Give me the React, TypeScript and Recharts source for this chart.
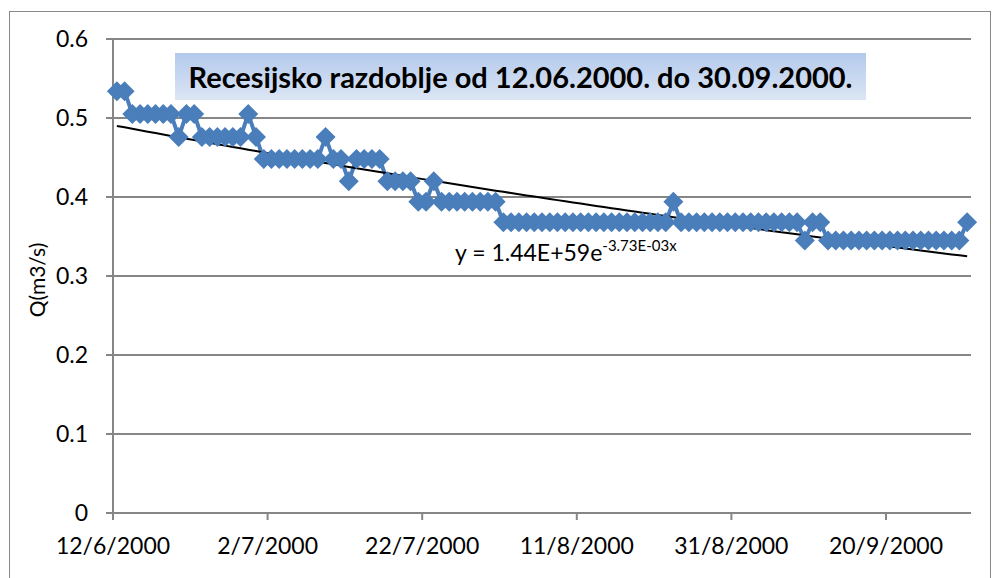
import { LineChart, Line, XAxis, YAxis, CartesianGrid } from "recharts";

// days counted from 12/6/2000, one reading per day
const startDate = Date.UTC(2000, 5, 12);
const dayTicks = [0, 20, 40, 60, 80, 100];
const qTicks = [0, 0.1, 0.2, 0.3, 0.4, 0.5, 0.6];

const discharge = [
  0.534, 0.534,
  0.505, 0.505, 0.505, 0.505, 0.505, 0.505,
  0.476,
  0.505, 0.505,
  0.476, 0.476, 0.476, 0.476, 0.476, 0.476,
  0.505,
  0.476,
  0.448, 0.448, 0.448, 0.448, 0.448, 0.448, 0.448, 0.448,
  0.476,
  0.448, 0.448,
  0.42,
  0.448, 0.448, 0.448, 0.448,
  0.42, 0.42, 0.42, 0.42,
  0.394, 0.394,
  0.42,
  0.394, 0.394, 0.394, 0.394, 0.394, 0.394, 0.394, 0.394,
  0.368, 0.368, 0.368, 0.368, 0.368, 0.368, 0.368, 0.368, 0.368, 0.368, 0.368,
  0.368, 0.368, 0.368, 0.368, 0.368, 0.368, 0.368, 0.368, 0.368, 0.368, 0.368,
  0.394,
  0.368, 0.368, 0.368, 0.368, 0.368, 0.368, 0.368, 0.368,
  0.368, 0.368, 0.368, 0.368, 0.368, 0.368, 0.368, 0.368,
  0.345,
  0.368, 0.368,
  0.345, 0.345, 0.345, 0.345, 0.345, 0.345, 0.345, 0.345, 0.345,
  0.345, 0.345, 0.345, 0.345, 0.345, 0.345, 0.345, 0.345, 0.345,
  0.368,
];

const title = "Recesijsko razdoblje od 12.06.2000. do 30.09.2000.";

// exponential trendline: least squares on ln(Q), like Excel does
const xs = discharge.map((_, i) => i + 0.5);
const lns = discharge.map((q) => Math.log(q));
const n = xs.length;
const mx = xs.reduce((a, b) => a + b, 0) / n;
const my = lns.reduce((a, b) => a + b, 0) / n;
let sxy = 0;
let sxx = 0;
xs.forEach((x, i) => {
  sxy += (x - mx) * (lns[i] - my);
  sxx += (x - mx) * (x - mx);
});
const slope = sxy / sxx;
const intercept = my - slope * mx;

const rows = discharge.map((q, i) => ({
  day: xs[i],
  q,
  trend: Math.exp(intercept + slope * xs[i]),
}));

const fmtDate = (d: number) => {
  const dt = new Date(startDate + d * 86400000);
  return `${dt.getUTCDate()}/${dt.getUTCMonth() + 1}/${dt.getUTCFullYear()}`;
};

const Diamond = (props: any) => {
  const { cx, cy, index } = props;
  if (cx == null || cy == null) return null;
  const r = 10;
  return (
    <path
      key={index}
      d={`M${cx},${cy - r}L${cx + r},${cy}L${cx},${cy + r}L${cx - r},${cy}Z`}
      fill="#4a7ebb"
    />
  );
};

const font = "Lato, 'Open Sans', sans-serif";
const axisColor = "#868686";

export default function App() {
  return (
    <div style={{ position: "absolute", left: 0, top: 0, width: 995, height: 578, background: "#fff", overflow: "hidden", fontFamily: font }}>
      <div style={{ position: "absolute", left: 9, top: 11, width: 980, height: 600, border: "1.5px solid #8a8a8a" }} />
      <LineChart width={995} height={578} data={rows} margin={{ top: 39, right: 24, bottom: 0, left: 0 }}>
        <CartesianGrid vertical={false} stroke={axisColor} strokeWidth={2} />
        <XAxis
          type="number"
          dataKey="day"
          domain={[0, 111]}
          ticks={dayTicks}
          tickFormatter={fmtDate}
          height={65}
          stroke={axisColor}
          strokeWidth={2}
          tickSize={7}
          tickMargin={18}
          tick={{ fill: "#000", fontSize: 23, fontFamily: font }}
        />
        <YAxis
          domain={[0, 0.6]}
          ticks={qTicks}
          width={113}
          stroke={axisColor}
          strokeWidth={2}
          tickSize={7}
          tickMargin={18}
          tick={{ fill: "#000", fontSize: 23, fontFamily: font }}
          label={{
            content: (p: any) => {
              const vb = p.viewBox || { x: 0, y: 39, height: 474 };
              const cx = vb.x + 36;
              const cy = vb.y + vb.height / 2 + 4;
              return (
                <text x={cx} y={cy} transform={`rotate(-90 ${cx} ${cy})`} textAnchor="middle" dominantBaseline="central" fontSize={21} fontFamily={font} fill="#000">
                  Q(m3/s)
                </text>
              );
            },
          }}
        />
        <Line dataKey="q" stroke="#4a7ebb" strokeWidth={4} dot={<Diamond />} activeDot={false} isAnimationActive={false} />
        <Line dataKey="trend" stroke="#000" strokeWidth={2} dot={false} activeDot={false} isAnimationActive={false} />
      </LineChart>
      <div
        style={{
          position: "absolute",
          left: 175,
          top: 53,
          width: 691,
          height: 47,
          background: "linear-gradient(#b3c9ec, #dce6f4)",
          display: "flex",
          alignItems: "center",
          justifyContent: "center",
          fontWeight: 700,
          fontSize: 29,
          color: "#000",
          whiteSpace: "nowrap",
        }}
      >
        {title}
      </div>
      <svg width={995} height={578} style={{ position: "absolute", left: 0, top: 0, pointerEvents: "none" }}>
        <text x={455} y={261} fontSize={23} fontFamily={font} fill="#000">
          y = 1.44E+59e
          <tspan dy={-10} fontSize={15}>-3.73E-03x</tspan>
        </text>
      </svg>
    </div>
  );
}
